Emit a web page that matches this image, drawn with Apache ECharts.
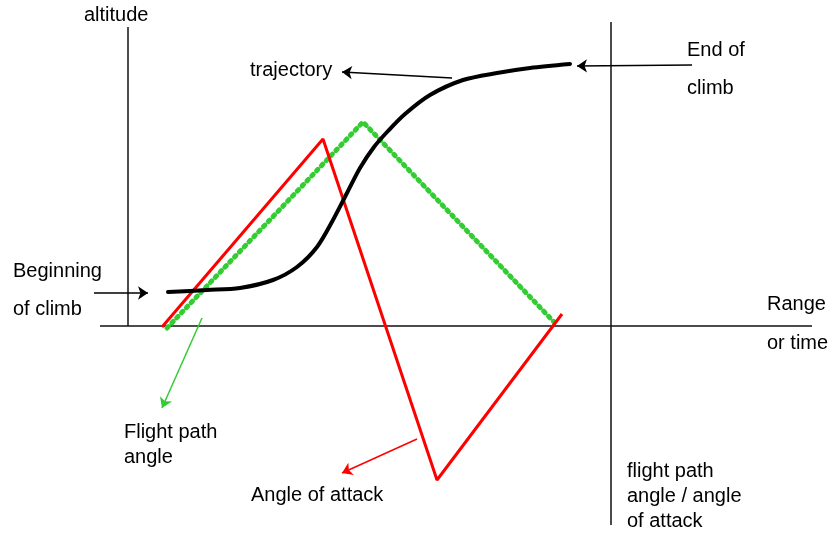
<!DOCTYPE html>
<html>
<head>
<meta charset="utf-8">
<style>
  html, body { margin: 0; padding: 0; background: #fff; }
  #chart { width: 833px; height: 533px; }
</style>
<script src="https://cdn.jsdelivr.net/npm/echarts@6/dist/echarts.min.js"></script>
</head>
<body>
<div id="chart"></div>
<script>
// x = range/time from altitude axis, y = altitude (or angle) above the range axis
const trajectory = [[40, 34], [79, 36], [112, 38], [145, 46], [169, 59], [189, 79], [205, 106],
    [219, 133], [232, 158], [246, 179], [260, 195], [277, 212], [302, 231], [335, 246],
    [369, 253], [402, 258], [442, 262]];
const angleOfAttack = [[34, -1], [195, 187], [309, -154], [434, 12]];
const flightPathAngle = [[39, -2], [235, 204], [426, 4]];

// axes of the sketch
const altitudeAxis = [[0, 299], [0, 0]];
const rangeAxis = [[-28, 0], [684, 0]];
const angleAxis = [[483, 304], [483, -199]];

// annotation arrows: [from, to]
const arrowsBlack = [
    [[324, 248], [214, 254]],
    [[564, 261], [449, 260]],
    [[-34, 33], [20, 33]]
];
const arrowGreen = [[74, 8], [34, -82]];
const arrowRed = [[289, -113], [214, -147]];

var myChart = echarts.init(document.getElementById('chart'));
const FONT = 'Liberation Sans, Arial, sans-serif';

function label(x, y, lines, gap) {
    return lines.map(function (t, i) {
        return {
            type: 'text',
            left: x,
            top: y + i * (gap || 25) - 12,
            style: { text: t, font: '20px ' + FONT, fill: '#000' }
        };
    });
}

function axisSeries(data) {
    return {
        type: 'line',
        data: data,
        showSymbol: false,
        silent: true,
        lineStyle: { color: '#111', width: 1.5 },
        z: 1
    };
}

var option = {
    backgroundColor: '#fff',
    animation: false,
    grid: { left: 0, right: 0, top: 0, bottom: 0 },
    xAxis: { type: 'value', min: -128, max: 705, show: false },
    yAxis: { type: 'value', min: -207, max: 326, show: false },
    graphic: [].concat(
        label(84, 17, ['altitude']),
        label(250, 72, ['trajectory']),
        label(687, 52, ['End of', 'climb'], 38),
        label(13, 273, ['Beginning', 'of climb'], 38),
        label(767, 306, ['Range', 'or time'], 39),
        label(124, 434, ['Flight path', 'angle']),
        label(251, 497, ['Angle of attack']),
        label(627, 473, ['flight path', 'angle / angle', 'of attack'])
    ),
    series: [
        axisSeries(altitudeAxis),
        axisSeries(rangeAxis),
        axisSeries(angleAxis),
        {
            name: 'Flight path angle',
            type: 'line',
            data: flightPathAngle,
            showSymbol: false,
            lineStyle: { color: '#33cc33', width: 5, type: [2, 5], cap: 'round' },
            z: 3
        },
        {
            name: 'Angle of attack',
            type: 'line',
            data: angleOfAttack,
            showSymbol: false,
            lineStyle: { color: '#ff0000', width: 3 },
            z: 4
        },
        {
            name: 'trajectory',
            type: 'line',
            data: trajectory,
            smooth: 0.3,
            showSymbol: false,
            lineStyle: { color: '#000', width: 4, join: 'round', cap: 'round' },
            z: 5
        },
        {
            type: 'lines',
            coordinateSystem: 'cartesian2d',
            symbol: ['none', 'arrow'],
            symbolSize: 10,
            silent: true,
            lineStyle: { width: 1.5, opacity: 1, curveness: 0 },
            data: arrowsBlack.map(function (c) {
                return { coords: c, lineStyle: { color: '#000' } };
            }).concat([
                { coords: arrowGreen, lineStyle: { color: '#33cc33' } },
                { coords: arrowRed, lineStyle: { color: '#ff0000' } }
            ]),
            z: 6
        }
    ]
};
myChart.setOption(option);
</script>
</body>
</html>
